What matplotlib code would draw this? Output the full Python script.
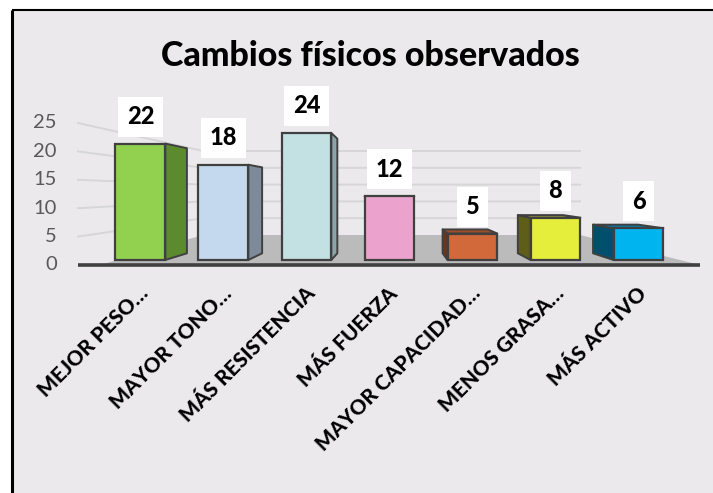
import matplotlib
matplotlib.use("Agg")
import matplotlib.pyplot as plt
from matplotlib.patches import Polygon, Rectangle

# ---- data ----
categories = ["MEJOR PESO…", "MAYOR TONO…", "MÁS RESISTENCIA", "MÁS FUERZA",
              "MAYOR CAPACIDAD…", "MENOS GRASA…", "MÁS ACTIVO"]
values = [22, 18, 24, 12, 5, 8, 6]
yticks = [0, 5, 10, 15, 20, 25]
title = "Cambios físicos observados"

front_colors = ["#92D050", "#C5D9EE", "#C3E0E3", "#EBA2CC", "#D2693B", "#E6EE3C", "#00B4F0"]
side_colors = ["#5B8A2F", "#7D8A99", "#8CA4A7", "#9A6A86", "#6E3519", "#5E5E18", "#004F6C"]
top_colors = ["#79AE42", "#A4B5C8", "#A8C4C7", "#C888AE", "#9C4E2A", "#A8AE2C", "#0A78A6"]

# ---- pseudo 3D layout (pixel space) ----
W, H = 713, 493
FL, FR, BL, BR = 78, 700, 203, 580      # left/right x at front and back planes
FLOOR_FL = 100                           # floor front-left corner x
FB, BB = 265, 235                        # baseline y at front / back
FS, BS = 5.68, 3.36                      # pixels per unit at front / back
D0, D1 = 0.167, 0.39                     # bar front / back depth
N = len(categories)
BARW = 0.6


def proj(c, v, d):
    left = FL + (BL - FL) * d
    right = FR + (BR - FR) * d
    x = left + c * (right - left) / N
    base = FB + (BB - FB) * d
    scale = FS + (BS - FS) * d
    return x, base - scale * v


fig = plt.figure(figsize=(W / 100, H / 100), dpi=100)
fig.patch.set_facecolor("white")
ax = fig.add_axes([0, 0, 1, 1])
ax.set_xlim(0, W)
ax.set_ylim(H, 0)
ax.axis("off")

# chart background & border
ax.add_patch(Rectangle((12, 10), W - 12, H - 10, facecolor="#EBE9EC", edgecolor="none", zorder=0))
ax.plot([12, 12], [10, H], color="black", lw=2.2, zorder=1, solid_capstyle="butt")
ax.plot([12, W], [10, 10], color="black", lw=1.5, zorder=1, solid_capstyle="butt")

font = "Lato"

# floor
floor = [(FLOOR_FL, FB), proj(N, 0, 0), proj(N, 0, 1), proj(0, 0, 1)]
ax.add_patch(Polygon(floor, closed=True, facecolor="#BBBBBB", edgecolor="none", zorder=2))

# gridlines (left wall + back wall)
for v in yticks[1:]:
    p0, p1, p2 = proj(0, v, 0), proj(0, v, 1), proj(N, v, 1)
    ax.plot([p0[0], p1[0], p2[0]], [p0[1], p1[1], p2[1]], color="#D6D6D6", lw=1.4, zorder=1.5)

# front edge
a, b = proj(0, 0, 0), proj(N, 0, 0)
ax.plot([a[0], b[0]], [a[1], b[1]], color="#404040", lw=2.6, zorder=3, solid_capstyle="butt")

# y tick labels
for v in yticks:
    x, y = proj(0, v, 0)
    ax.text(x - 21, y, str(v), ha="right", va="center", fontsize=14.5,
            color="#595959", family=font)

edge = "#404040"
for i, (val, fc, sc, tc) in enumerate(zip(values, front_colors, side_colors, top_colors)):
    c0, c1 = i + (1 - BARW) / 2, i + (1 + BARW) / 2
    flb, flt = proj(c0, 0, D0), proj(c0, val, D0)
    frb, frt = proj(c1, 0, D0), proj(c1, val, D0)
    blb, blt = proj(c0, 0, D1), proj(c0, val, D1)
    brb, brt = proj(c1, 0, D1), proj(c1, val, D1)
    if brb[0] > frb[0] + 0.5:
        ax.add_patch(Polygon([frb, frt, brt, brb], closed=True, facecolor=sc,
                             edgecolor=edge, lw=1.4, zorder=4, joinstyle="round"))
    if blb[0] < flb[0] - 0.5:
        ax.add_patch(Polygon([flb, flt, blt, blb], closed=True, facecolor=sc,
                             edgecolor=edge, lw=1.4, zorder=4, joinstyle="round"))
    if blt[1] < flt[1]:
        ax.add_patch(Polygon([flt, frt, brt, blt], closed=True, facecolor=tc,
                             edgecolor=edge, lw=1.4, zorder=4, joinstyle="round"))
    ax.bar((flb[0] + frb[0]) / 2, flt[1] - flb[1], width=frb[0] - flb[0], bottom=flb[1],
           color=fc, edgecolor=edge, linewidth=1.6, zorder=5)
    # value label
    ax.text((flb[0] + frb[0]) / 2, flt[1] - 27, str(val), ha="center", va="center",
            fontsize=17, fontweight=900, family=font, color="black", zorder=6,
            bbox=dict(boxstyle="square,pad=0.36", facecolor="white", edgecolor="none"))
    # category label
    cx = (flb[0] + frb[0]) / 2
    ax.text(cx + 5, 290, categories[i], rotation=45, rotation_mode="anchor",
            ha="right", va="center", fontsize=15, fontweight=900, family=font,
            color="black", zorder=6)

ax.text(370, 56, title, ha="center", va="center", fontsize=24.5, fontweight=900,
        family=font, color="black")

fig.savefig("out.png", dpi=100, facecolor=fig.get_facecolor())
